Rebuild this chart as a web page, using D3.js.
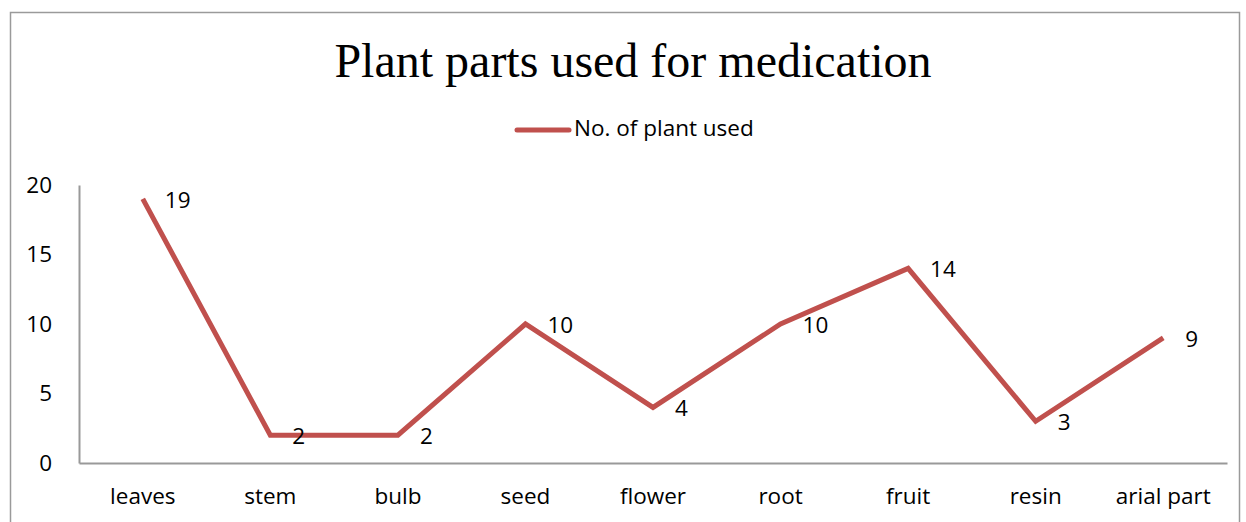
<!DOCTYPE html>
<html>
<head>
<meta charset="utf-8">
<script src="https://d3js.org/d3.v7.min.js"></script>
<style>
  body { margin: 0; background: #fff; }
  text { font-family: "Open Sans", Lato, sans-serif; fill: #000; }
</style>
</head>
<body>
<div class="canvas"></div>
<script>
const categories = ['leaves', 'stem', 'bulb', 'seed', 'flower', 'root', 'fruit', 'resin', 'arial part'];
const plantsUsed = [19, 2, 2, 10, 4, 10, 14, 3, 9];
const yTicks = [0, 5, 10, 15, 20];
const seriesName = 'No. of plant used';
const chartTitle = 'Plant parts used for medication';

const width = 1246;
const height = 522;
const margin = {left: 79, right: 19, top: 185, bottom: 59};
const fontSize = '22.5px';

const svg = d3.select('.canvas')
    .append('svg')
    .attr('width', width)
    .attr('height', height);

// outer frame
svg.append('rect')
    .attr('x', 10.5).attr('y', 12.5)
    .attr('width', 1229).attr('height', 530)
    .attr('fill', 'none')
    .attr('stroke', '#9a9a9a')
    .attr('stroke-width', 1.5);

const x = d3.scaleBand()
    .domain(categories)
    .range([margin.left, width - margin.right]);

const y = d3.scaleLinear()
    .domain([0, 20])
    .range([height - margin.bottom, margin.top]);

////////// AXES ///////////////////
const xAxis = d3.axisBottom(x).tickSize(0).tickPadding(25);
const gX = svg.append('g')
    .attr('transform', `translate(0, ${y(0)})`)
    .call(xAxis);
gX.select('.domain').attr('stroke', '#999').attr('stroke-width', 2);
gX.selectAll('text').style('font-size', fontSize).attr('font-family', null);

const yAxis = d3.axisLeft(y).tickValues(yTicks).tickSize(0).tickPadding(27);
const gY = svg.append('g')
    .attr('transform', `translate(${margin.left}, 0)`)
    .call(yAxis);
gY.select('.domain').attr('stroke', '#999').attr('stroke-width', 2);
gY.selectAll('text').style('font-size', fontSize).attr('font-family', null);

////////// LINE ///////////////////
const line = d3.line()
    .x((d, i) => x(categories[i]) + x.bandwidth() / 2)
    .y(d => y(d));

svg.append('path')
    .datum(plantsUsed)
    .attr('d', line)
    .attr('fill', 'none')
    .attr('stroke', '#C0504D')
    .attr('stroke-width', 5)
    .attr('stroke-linejoin', 'miter');

svg.selectAll('.label')
    .data(plantsUsed)
    .enter()
    .append('text')
    .attr('class', 'label')
    .attr('x', (d, i) => x(categories[i]) + x.bandwidth() / 2 + 22)
    .attr('y', d => y(d) + 3)
    .attr('dominant-baseline', 'middle')
    .style('font-size', fontSize)
    .text(d => d);

////////// TITLE + LEGEND ///////////////////
svg.append('text')
    .attr('x', 633).attr('y', 77)
    .attr('text-anchor', 'middle')
    .style('font-family', '"Liberation Serif", "Times New Roman", serif')
    .style('font-size', '48px')
    .text(chartTitle);

svg.append('line')
    .attr('x1', 517).attr('x2', 569)
    .attr('y1', 130).attr('y2', 130)
    .attr('stroke', '#C0504D')
    .attr('stroke-width', 5)
    .attr('stroke-linecap', 'round');

svg.append('text')
    .attr('x', 574).attr('y', 130)
    .attr('dominant-baseline', 'middle')
    .style('font-size', fontSize)
    .text(seriesName);
</script>
</body>
</html>
